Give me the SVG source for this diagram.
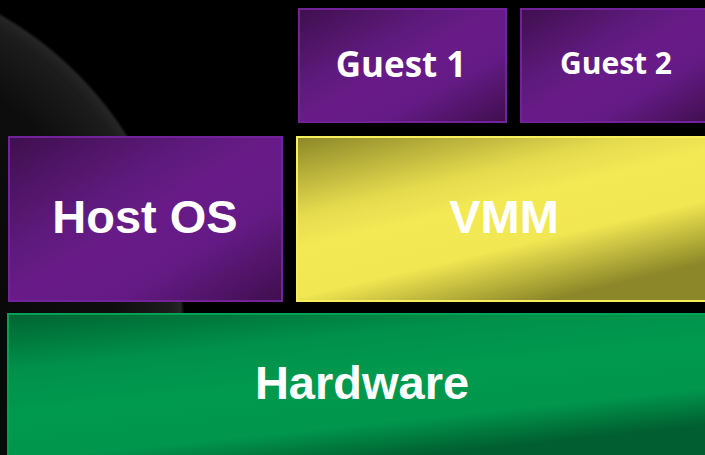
<svg xmlns="http://www.w3.org/2000/svg" width="705" height="455" viewBox="0 0 705 455">
  <defs>
    <radialGradient id="glow" cx="-180" cy="330" r="365" gradientUnits="userSpaceOnUse">
      <stop offset="0" stop-color="#030303"/>
      <stop offset="0.8" stop-color="#0d0d0d"/>
      <stop offset="0.96" stop-color="#1c1c1c"/>
      <stop offset="0.99" stop-color="#252525"/>
      <stop offset="1" stop-color="#000000"/>
    </radialGradient>
    <linearGradient id="purple" x1="0" y1="0" x2="1" y2="1">
      <stop offset="0" stop-color="#3f0f4e"/>
      <stop offset="0.35" stop-color="#5e1a7c"/>
      <stop offset="0.5" stop-color="#681b88"/>
      <stop offset="0.7" stop-color="#641a84"/>
      <stop offset="1" stop-color="#3f0f4e"/>
    </linearGradient>
    <linearGradient id="yellow" x1="0" y1="0" x2="0.6" y2="1">
      <stop offset="0" stop-color="#8c8728"/>
      <stop offset="0.35" stop-color="#e4da4e"/>
      <stop offset="0.5" stop-color="#f3e954"/>
      <stop offset="0.72" stop-color="#f1e752"/>
      <stop offset="1" stop-color="#8c8728"/>
    </linearGradient>
    <linearGradient id="green" x1="0" y1="0" x2="0.5" y2="1">
      <stop offset="0" stop-color="#006432"/>
      <stop offset="0.3" stop-color="#00904a"/>
      <stop offset="0.55" stop-color="#009a4e"/>
      <stop offset="0.8" stop-color="#00964c"/>
      <stop offset="1" stop-color="#005e30"/>
    </linearGradient>
    <style>
      .pbox { fill: url(#purple); stroke: #72239a; stroke-width: 2; }
      .ybox { fill: url(#yellow); stroke: #f6ee5c; stroke-width: 2; }
      .gbox { fill: url(#green); stroke: #00a353; stroke-width: 2; }
      .big { font-family: "Liberation Sans", Arial, sans-serif; font-weight: bold; font-size: 47px; fill: #ffffff; text-anchor: middle; }
      .small { font-family: "Open Sans", sans-serif; font-weight: bold; fill: #ffffff; text-anchor: middle; }
    </style>
  </defs>
  <rect x="0" y="0" width="705" height="455" fill="#000000"/>
  <circle cx="-180" cy="330" r="365" fill="url(#glow)"/>

  <g id="guest1">
    <rect class="pbox" x="299" y="9" width="207" height="113"/>
    <text class="small" x="401" y="77" font-size="35">Guest 1</text>
  </g>
  <g id="guest2">
    <rect class="pbox" x="521" y="9" width="190" height="113"/>
    <text class="small" x="616" y="74" font-size="30">Guest 2</text>
  </g>
  <g id="hostos">
    <rect class="pbox" x="9" y="137" width="273" height="164"/>
    <text class="big" x="145" y="233">Host OS</text>
  </g>
  <g id="vmm">
    <rect class="ybox" x="297" y="137" width="414" height="164"/>
    <text class="big" x="504" y="233">VMM</text>
  </g>
  <g id="hardware">
    <rect class="gbox" x="8" y="314" width="703" height="148"/>
    <text class="big" x="362" y="399">Hardware</text>
  </g>
  <g id="connectors"/>
</svg>
